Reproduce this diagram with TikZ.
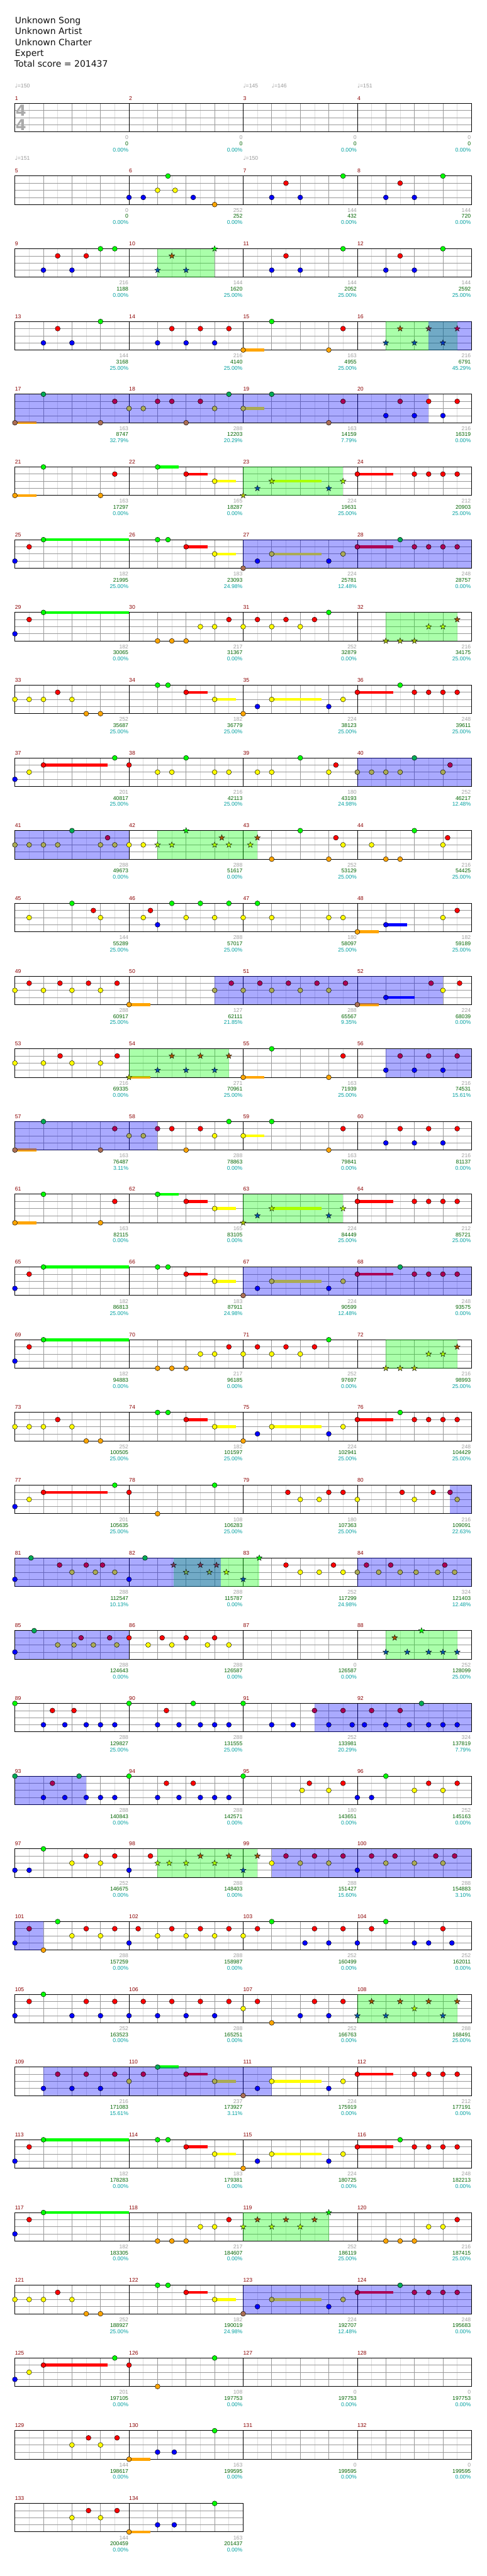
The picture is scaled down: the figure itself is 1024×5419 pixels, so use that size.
\documentclass[tikz,border=0pt]{standalone}
\usepackage{fontspec}
\setmainfont{DejaVu Sans}
\newfontfamily\labf{Liberation Sans}
\newfontfamily\symf{DejaVu Sans}
% note colours: n = normal, b = in activation (blue), s = star in phrase, t = star in both
\definecolor{n0}{HTML}{00FF00}\definecolor{n1}{HTML}{FF0000}\definecolor{n2}{HTML}{FFFF00}\definecolor{n3}{HTML}{0000FF}\definecolor{n4}{HTML}{FFA500}
\definecolor{b0}{HTML}{00AA55}\definecolor{b1}{HTML}{AA0055}\definecolor{b2}{HTML}{AAAA55}\definecolor{b3}{HTML}{0000FF}\definecolor{b4}{HTML}{AA6E55}
\definecolor{s0}{HTML}{00FF00}\definecolor{s1}{HTML}{AA5500}\definecolor{s2}{HTML}{AAFF00}\definecolor{s3}{HTML}{0055AA}\definecolor{s4}{HTML}{AAC300}
\definecolor{t0}{HTML}{00AA55}\definecolor{t1}{HTML}{713955}\definecolor{t2}{HTML}{71AA55}\definecolor{t3}{HTML}{0039C6}\definecolor{t4}{HTML}{718255}
\definecolor{zgc}{HTML}{00FF00}\definecolor{zbc}{HTML}{0000FF}
\definecolor{eighthc}{HTML}{DDDDDD}\definecolor{beatc}{HTML}{999999}
\definecolor{mnumc}{HTML}{8B0000}\definecolor{lgc}{HTML}{A0A0A0}\definecolor{lgrc}{HTML}{006400}\definecolor{lcc}{HTML}{00A0A0}
\definecolor{tempoc}{HTML}{999999}\definecolor{tsc}{HTML}{AAAAAA}\definecolor{headc}{HTML}{111111}
\tikzset{
 ge/.style={draw=eighthc,line width=0.9pt},
 gb/.style={draw=beatc,line width=0.9pt},
 gm/.style={draw=black,line width=1pt},
 gf/.style={draw=black,line width=1.3pt},
 zg/.style={fill=zgc,fill opacity=0.3333},
 zb/.style={fill=zbc,fill opacity=0.3333},
 smallt/.style={font=\labf\fontsize{11.5}{13}\selectfont,inner sep=0pt},
 mnum/.style={smallt,anchor=base west,yshift=6.6pt,text=mnumc},
 lga/.style={smallt,anchor=base east,xshift=-1.2pt,yshift=-16pt,text=lgc},
 lgb/.style={smallt,anchor=base east,xshift=-1.2pt,yshift=-28.7pt,text=lgrc},
 lgcs/.style={smallt,anchor=base east,xshift=-1.2pt,yshift=-41.7pt,text=lcc},
 tempo/.style={smallt,anchor=base west,yshift=33pt,text=tempoc},
 tsig/.style={font=\bfseries\fontsize{32}{34}\selectfont,text=tsc,inner sep=0pt},
 head/.style={font=\fontsize{18.5}{23}\selectfont,text=headc,anchor=base west,inner sep=0pt}
}
\newcommand\startrow[1]{\def\rk{#1}\pgfmathsetmacro\T{-(217.3+153*#1)}\begin{scope}[shift={(31.3pt,\T pt)},x=30pt,y=-15pt]}
\newcommand\stoprow{\end{scope}}
\newcommand\stgrid[2]{%
 \pgfmathtruncatemacro\Wa{#1-1}\pgfmathtruncatemacro\Wb{#1-2}%
 \foreach \i in {1,3,...,\Wa} \draw[ge] (\i,0)--(\i,4);
 \foreach \i in {2,4,...,\Wb} \draw[gb] (\i,0)--(\i,4);
 \foreach \j in {1,2,3} \draw[gb] (0,\j)--(#1,\j);
 \foreach \i in {#2} \draw[gm] (\i,0)--(\i,4);
 \draw[gf] (0,0) rectangle (#1,4);}
\newcommand\nt[3]{\edef\cc{#3#2}\filldraw[fill=\cc,draw=black,line width=0.6pt] (#1,#2) circle (5.2pt);}
\newcommand\st[3]{\edef\cc{#3#2}\filldraw[fill=\cc,draw=black,line width=0.5pt,shift={(#1,#2)}] (90:6.4pt)--(126:2.6pt)--(162:6.4pt)--(198:2.6pt)--(234:6.4pt)--(270:2.6pt)--(306:6.4pt)--(342:2.6pt)--(18:6.4pt)--(54:2.6pt)--cycle;}
\newcommand\putn[2]{\foreach \e/\l in {#2}{\nt{\e}{\l}{#1}}}
\newcommand\puts[2]{\foreach \e/\l in {#2}{\st{\e}{\l}{#1}}}
\newcommand\puth[1]{\foreach \a/\b/\l in {#1}{\edef\cc{n\l}\draw[line width=6pt,draw=\cc] (\a,\l)--(\b,\l);}}
\newcommand\putz[2]{\foreach \a/\b in {#2}{\fill[z#1] (\a,0) rectangle (\b,4);}}
\newcommand\mlabs[4]{\pgfmathtruncatemacro\mn{4*\rk+#1+1}%
 \node[mnum] (mn\mn) at (8*#1,0) {\mn};
 \node[lga] (sa\mn) at (8*#1+8,4) {#2};
 \node[lgb] (sb\mn) at (8*#1+8,4) {#3};
 \node[lgcs] (sc\mn) at (8*#1+8,4) {#4\%};}
\newcommand\mlabrow[1]{\foreach \qa/\qb/\qc [count=\j from 0] in {#1}{\mlabs{\j}{\qa}{\qb}{\qc}}}
\newcommand\tmark[3]{\node[tempo] (tp\rk#3) at (#1,0) {{\symf ♩}=#2};}
% repeated patterns
\newcommand\patA{%
 \puth{0/1.5/4, 10/11.5/0, 12/13.5/1, 14/15.5/2, 18/21.5/2, 24/26.5/1}
 \putz{g}{16/23}
 \putn{n}{0/4, 2/0, 6/4, 7/1, 10/0, 12/1, 14/2, 24/1, 28/1, 29/1, 30/1, 31/1}
 \puts{s}{16/4, 17/3, 18/2, 22/3, 23/2}}
\newcommand\patB{%
 \puth{2/8/0, 12/13.5/1, 14/15.5/2, 18/21.5/2, 24/26.5/1}
 \putz{b}{16/32}
 \putn{n}{0/3, 1/1, 2/0, 10/0, 10.73/0, 12/1, 14/2}
 \putn{b}{16/4, 17/3, 18/2, 22/3, 23/2, 24/1, 27/0, 28/1, 29/1, 30/1, 31/1}}
\newcommand\patC{%
 \puth{2/8/0}
 \putz{g}{26/31}
 \putn{n}{0/3, 1/1, 2/0, 10/4, 11/4, 12/4, 13/2, 14/2, 15/1, 16/2, 17/1, 18/2, 19/1, 20/2, 21/1, 22/0}
 \puts{s}{26/4, 27/4, 28/4, 29/2, 30/2, 31/1}}
\newcommand\patD{%
 \puth{12/13.5/1, 14/15.5/2, 18/21.5/2, 24/26.5/1}
 \putn{n}{0/2, 1/2, 2/2, 3/1, 4/2, 5/4, 6/4, 10/0, 10.73/0, 12/1, 14/2, 16/4, 17/3, 18/2, 22/3, 23/2, 24/1, 27/0, 28/1, 29/1, 30/1, 31/1}}
\begin{document}
\begin{tikzpicture}
\useasboundingbox (0,0) rectangle (1024pt,-5419pt);
\fill[white] (0,0) rectangle (1024pt,-5419pt);
\node[head] (h1) at (31.3pt,-49.3pt) {Unknown Song};
\node[head] (h2) at (31.3pt,-72.3pt) {Unknown Artist};
\node[head] (h3) at (31.3pt,-95.3pt) {Unknown Charter};
\node[head] (h4) at (31.3pt,-118.3pt) {Expert};
\node[head] (h5) at (30pt,-141.3pt) {Total score = 201437};
% row 0
\startrow{0}\stgrid{32}{8,16,24}
\node[tsig] (ts1) at (0.42,1.03) {4};
\node[tsig] (ts2) at (0.42,3.01) {4};
\tmark{0}{150}{a}\tmark{16}{145}{b}\tmark{18}{146}{c}\tmark{24}{151}{d}
\mlabrow{0/0/0.00, 0/0/0.00, 0/0/0.00, 0/0/0.00}
\stoprow
% row 1
\startrow{1}\stgrid{32}{8,16,24}
\putn{n}{8/3, 9/3, 10/2, 10.73/0, 11.23/2, 12.5/3, 14/4, 18/3, 19/1, 20/3, 23/0, 26/3, 27/1, 28/3, 30/0}
\tmark{0}{151}{a}\tmark{16}{150}{b}
\mlabrow{0/0/0.00, 252/252/0.00, 144/432/0.00, 144/720/0.00}
\stoprow
% row 2
\startrow{2}\stgrid{32}{8,16,24}
\putz{g}{10/14}
\putn{n}{2/3, 3/1, 4/3, 5/1, 6/0, 7/0, 18/3, 19/1, 20/3, 23/0, 26/3, 27/1, 28/3, 30/0}
\puts{s}{10/3, 11/1, 12/3, 14/0}
\mlabrow{216/1188/0.00, 144/1620/25.00, 144/2052/25.00, 144/2592/25.00}
\stoprow
% row 3
\startrow{3}\stgrid{32}{8,16,24}
\puth{16/17.5/4}
\putz{g}{26/31}\putz{b}{29/32}
\putn{n}{2/3, 3/1, 4/3, 6/0, 10/3, 11/1, 12/3, 13/1, 14/3, 15/1, 16/4, 18/0, 22/4, 23/1}
\puts{s}{26/3, 27/1, 28/3}\puts{t}{29/1, 30/3}\puts{b}{31/1}
\mlabrow{144/3168/25.00, 216/4140/25.00, 163/4955/25.00, 216/6791/45.29}
\stoprow
% row 4
\startrow{4}\stgrid{32}{8,16,24}
\puth{0/1.5/4, 16/17.5/2}
\putz{b}{0/29}
\putn{b}{0/4, 2/0, 6/4, 7/1, 8/2, 9/2, 10/1, 11/1, 12/4, 13/1, 14/2, 15/0, 16/2, 18/0, 22/4, 23/1, 26/3, 27/1, 28/3}
\putn{n}{29/1, 30/3, 31/1}
\mlabrow{163/8747/32.79, 288/12203/20.29, 163/14159/7.79, 216/16319/0.00}
\stoprow
% row 5
\startrow{5}\stgrid{32}{8,16,24}\patA
\mlabrow{163/17297/0.00, 165/18287/0.00, 224/19631/25.00, 212/20903/25.00}
\stoprow
% row 6
\startrow{6}\stgrid{32}{8,16,24}\patB
\mlabrow{182/21995/25.00, 183/23093/24.98, 224/25781/12.48, 248/28757/0.00}
\stoprow
% row 7
\startrow{7}\stgrid{32}{8,16,24}\patC
\mlabrow{182/30065/0.00, 217/31367/0.00, 252/32879/0.00, 216/34175/25.00}
\stoprow
% row 8
\startrow{8}\stgrid{32}{8,16,24}\patD
\mlabrow{252/35687/25.00, 182/36779/25.00, 224/38123/25.00, 248/39611/25.00}
\stoprow
% row 9
\startrow{9}\stgrid{32}{8,16,24}
\puth{2/6.5/1}
\putz{b}{24/32}
\putn{n}{0/3, 1/2, 2/1, 7/0, 8/1, 10/2, 11/2, 12/0, 14/2, 15/2, 17/2, 18/2, 20/0, 22/2, 22.5/1}
\putn{b}{24/2, 25/2, 26/2, 27/2, 28/0, 30/2, 30.5/1}
\mlabrow{201/40817/25.00, 216/42113/25.00, 180/43193/24.98, 252/46217/12.48}
\stoprow
% row 10
\startrow{10}\stgrid{32}{8,16,24}
\putz{g}{10/17}\putz{b}{0/8}
\putn{b}{0/2, 1/2, 2/2, 3/2, 4/0, 6/2, 6.5/1, 7/2}
\putn{n}{8/2, 9/2, 18/4, 20/0, 22/4, 22.5/1, 23/2, 25/2, 26/4, 27/4, 28/0, 30/2, 30.33/1}
\puts{s}{10/2, 11/2, 12/0, 14/2, 14.5/1, 15/2, 16.5/2, 17/1}
\mlabrow{288/49673/0.00, 288/51617/0.00, 252/53129/25.00, 216/54425/25.00}
\stoprow
% row 11
\startrow{11}\stgrid{32}{8,16,24}
\puth{24/25.5/4, 26/27.5/3}
\putn{n}{1/2, 4/0, 5.5/1, 6/2, 9/2, 9.5/1, 10/3, 11/0, 12/2, 13/0, 14/2, 15/0, 16/2, 17/0, 18/2, 22/2, 23/2, 24/4, 26/3, 30/2, 31/1}
\mlabrow{144/55289/25.00, 288/57017/25.00, 180/58097/25.00, 182/59189/25.00}
\stoprow
% row 12
\startrow{12}\stgrid{32}{8,16,24}
\puth{8/9.5/4, 24/25.5/4, 26/28/3}
\putz{b}{14/30}
\putn{n}{0/2, 1/1, 2/2, 3.16/1, 4/2, 5.16/1, 6/2, 7.16/1, 8/4, 30/2, 31.17/1}
\putn{b}{14/2, 15.17/1, 16/2, 17.17/1, 18/2, 19.17/1, 20/2, 21.17/1, 22/2, 23.17/1, 24/4, 26/3, 29.17/1}
\mlabrow{288/60917/25.00, 127/62111/21.85, 288/65567/9.35, 224/68039/0.00}
\stoprow
% row 13
\startrow{13}\stgrid{32}{8,16,24}
\puth{8/9.5/4, 16/17.5/4}
\putz{g}{8/15}\putz{b}{26/32}
\putn{n}{0/2, 2/2, 3.17/1, 4/2, 6/2, 7.17/1, 16/4, 18/0, 22/4, 23/1}
\puts{s}{8/4, 10/3, 11/1, 12/3, 13/1, 14/3, 15/1}
\putn{b}{26/3, 27/1, 28/3, 29/1, 30/3, 31/1}
\mlabrow{216/69335/0.00, 271/70961/25.00, 163/71939/25.00, 216/74531/15.61}
\stoprow
% row 14
\startrow{14}\stgrid{32}{8,16,24}
\puth{0/1.5/4, 16/17.5/2}
\putz{b}{0/10}
\putn{b}{0/4, 2/0, 6/4, 7/1, 8/2, 9/2, 10/1}
\putn{n}{11/1, 12/4, 13/1, 14/2, 15/0, 16/2, 18/0, 22/4, 23/1, 26/3, 27/1, 28/3, 29/1, 30/3, 31/1}
\mlabrow{163/76487/3.11, 288/78863/0.00, 163/79841/0.00, 216/81137/0.00}
\stoprow
% rows 15-18
\startrow{15}\stgrid{32}{8,16,24}\patA
\mlabrow{163/82115/0.00, 165/83105/0.00, 224/84449/25.00, 212/85721/25.00}
\stoprow
\startrow{16}\stgrid{32}{8,16,24}\patB
\mlabrow{182/86813/25.00, 183/87911/24.98, 224/90599/12.48, 248/93575/0.00}
\stoprow
\startrow{17}\stgrid{32}{8,16,24}\patC
\mlabrow{182/94883/0.00, 217/96185/0.00, 252/97697/0.00, 216/98993/25.00}
\stoprow
\startrow{18}\stgrid{32}{8,16,24}\patD
\mlabrow{252/100505/25.00, 182/101597/25.00, 224/102941/25.00, 248/104429/25.00}
\stoprow
% row 19
\startrow{19}\stgrid{32}{8,16,24}
\puth{2/6.5/1}
\putz{b}{30.5/32}
\putn{n}{0/3, 1/2, 2/1, 7/0, 8/1, 10/4, 14/0, 19.13/1, 20/2, 21.33/2, 22/1, 23/1, 24/2, 27.14/1, 28/2, 29.32/1}
\putn{b}{30.5/1, 31/2}
\mlabrow{201/105635/25.00, 108/106283/25.00, 180/107363/25.00, 216/109091/22.63}
\stoprow
% row 20
\startrow{20}\stgrid{32}{8,16,24}
\putz{g}{11.12/17.13}\putz{b}{0/14.43, 24/32}
\putn{b}{0/3, 1.13/0, 3.13/1, 4/2, 5/1, 5.64/2, 6.14/1, 7/2, 8/3, 9.12/0}
\puts{t}{11.12/1, 12/2, 13/1, 13.63/2, 14.13/1}
\puts{s}{14.82/2, 16/3, 17.13/0}
\putn{n}{19/1, 20/2, 21.33/2, 22.33/1, 23/2}
\putn{b}{24/2, 24.64/1, 25.5/2, 26.34/1, 27/2, 28.12/2, 29.63/2, 30.13/1, 30.82/2}
\mlabrow{288/112547/10.13, 288/115787/0.00, 252/117299/24.98, 324/121403/12.48}
\stoprow
% row 21
\startrow{21}\stgrid{32}{8,16,24}
\putz{g}{26/31}\putz{b}{0/8}
\putn{b}{0/3, 1.35/0, 3/2, 4.14/2, 4.64/1, 5.5/2, 6.64/1, 7.14/2}
\putn{n}{8/1, 9.34/2, 10.32/1, 11/2, 12/1, 13.5/2, 14/1, 15/2}
\puts{s}{26/3, 26.62/1, 27.5/3, 28.5/0, 29/3, 30/3, 31/3}
\mlabrow{288/124643/0.00, 288/126587/0.00, 0/126587/0.00, 252/128099/25.00}
\stoprow
% row 22
\startrow{22}\stgrid{32}{8,16,24}
\putz{b}{21/32}
\putn{n}{0/0, 2/3, 2.63/1, 3.5/3, 4.14/1, 5/3, 6/3, 7/3, 8/0, 10/3, 10.62/1, 11.5/3, 12.5/0, 13/3, 14/3, 15/3, 16/0, 18/3, 19.5/3}
\putn{b}{21/1, 22/3, 23/1, 23.64/3, 24.5/3, 25/1, 26/3, 27/1, 27.64/3, 28.5/0, 29/3, 30/3, 31/3}
\mlabrow{288/129827/25.00, 288/131555/25.00, 252/133981/20.29, 324/137819/7.79}
\stoprow
% row 23
\startrow{23}\stgrid{32}{8,16,24}
\putz{b}{0/5}
\putn{b}{0/0, 2/3, 2.63/1, 3.5/3, 4.5/0}
\putn{n}{5/3, 6/3, 7/3, 8/0, 10/3, 10.62/1, 11.5/3, 12.5/1, 13/3, 14/3, 15/3, 16/0, 20.13/2, 20.64/1, 22/2, 23/1, 24/3, 25/3, 26/0, 28/2, 29/1, 30/2, 31/1}
\mlabrow{288/140843/0.00, 288/142571/0.00, 180/143651/0.00, 252/145163/0.00}
\stoprow
% row 24
\startrow{24}\stgrid{32}{8,16,24}
\putz{g}{10/17}\putz{b}{18/32}
\putn{n}{0/3, 1/3, 2/0, 4/2, 5/1, 6/2, 7/1, 8/3, 9.5/1, 18/2}
\puts{s}{10/2, 10.82/2, 12/2, 13/1, 14/2, 15/1, 16/3, 17/1}
\putn{b}{19/1, 20/2, 21/1, 22/2, 23/1, 24/3, 25/1, 26/2, 26.64/1, 28/2, 29.5/1, 30/2, 30.82/1}
\mlabrow{252/146675/0.00, 288/148403/0.00, 288/151427/15.60, 288/154883/3.10}
\stoprow
% row 25
\startrow{25}\stgrid{32}{8,16,24}
\putz{b}{0/2}
\putn{b}{0/3, 1/1}
\putn{n}{2/4, 3/0, 4/2, 5/1, 6/2, 7/1, 8/3, 8.64/1, 10/2, 11/1, 12/2, 13/1, 14/2, 15/1, 16/2, 17/1, 18/0, 20.33/3, 21/1, 22/3, 23/1, 24/3, 25/1, 26/0, 28/3, 29/3, 30/1, 30.63/3}
\mlabrow{288/157259/0.00, 288/158987/0.00, 252/160499/0.00, 252/162011/0.00}
\stoprow
% row 26
\startrow{26}\stgrid{32}{8,16,24}
\putz{g}{24/31}
\putn{n}{0/3, 1/1, 2/0, 4/3, 5/1, 6/3, 7/1, 8/3, 9/1, 10/3, 11/1, 12/3, 13/1, 14/3, 15/1, 16/2, 17/1, 18/4, 20/3, 21/1, 22/3, 23/1}
\puts{s}{24/3, 25/1, 26/3, 27/1, 28/2, 29/1, 30/3, 31/1}
\mlabrow{252/163523/0.00, 288/165251/0.00, 252/166763/0.00, 288/168491/25.00}
\stoprow
% row 27
\startrow{27}\stgrid{32}{8,16,24}
\puth{10/11.5/0, 12/13.5/1, 14/15.5/2, 18/21.5/2, 24/26.5/1}
\putz{b}{2/18}
\putn{n}{2/3, 18/2, 22/3, 23/2, 24/1, 28/1, 29/1, 30/1, 31/1}
\putn{b}{3/1, 4/3, 5/1, 6/3, 7/1, 8/2, 9/1, 10/0, 12/1, 14/2, 16/4, 17/3}
\mlabrow{216/171083/15.61, 237/173927/3.11, 224/175919/0.00, 212/177191/0.00}
\stoprow
% row 28
\startrow{28}\stgrid{32}{8,16,24}
\puth{2/8/0, 12/13.5/1, 14/15.5/2, 18/21.5/2, 24/26.5/1}
\putn{n}{0/3, 1/1, 2/0, 10/0, 10.73/0, 12/1, 14/2, 16/4, 17/3, 18/2, 22/3, 23/2, 24/1, 27/0, 28/1, 29/1, 30/1, 31/1}
\mlabrow{182/178283/0.00, 183/179381/0.00, 224/180725/0.00, 248/182213/0.00}
\stoprow
% row 29
\startrow{29}\stgrid{32}{8,16,24}
\puth{2/8/0}
\putz{g}{16/22}
\putn{n}{0/3, 1/1, 2/0, 10/4, 11/4, 12/4, 13/2, 14/2, 15/1, 26/4, 27/4, 28/4, 29/2, 30/2, 31/1}
\puts{s}{16/2, 17/1, 18/2, 19/1, 20/2, 21/1, 22/0}
\mlabrow{182/183305/0.00, 217/184607/0.00, 252/186119/25.00, 216/187415/25.00}
\stoprow
% row 30
\startrow{30}\stgrid{32}{8,16,24}
\puth{12/13.5/1, 14/15.5/2, 18/21.5/2, 24/26.5/1}
\putz{b}{16/32}
\putn{n}{0/2, 1/2, 2/2, 3/1, 4/2, 5/4, 6/4, 10/0, 10.73/0, 12/1, 14/2}
\putn{b}{16/4, 17/3, 18/2, 22/3, 23/2, 24/1, 27/0, 28/1, 29/1, 30/1, 31/1}
\mlabrow{252/188927/25.00, 182/190019/24.98, 224/192707/12.48, 248/195683/0.00}
\stoprow
% row 31
\startrow{31}\stgrid{32}{8,16,24}
\puth{2/6.5/1}
\putn{n}{0/3, 1/2, 2/1, 7/0, 8/1, 10/4, 14/0}
\mlabrow{201/197105/0.00, 108/197753/0.00, 0/197753/0.00, 0/197753/0.00}
\stoprow
% row 32
\startrow{32}\stgrid{32}{8,16,24}
\puth{8/9.5/4}
\putn{n}{4/2, 5.16/1, 6/2, 7.16/1, 8/4, 10/3, 11.17/3, 14/0}
\mlabrow{144/198617/0.00, 163/199595/0.00, 0/199595/0.00, 0/199595/0.00}
\stoprow
% row 33
\startrow{33}\stgrid{16}{8}
\puth{8/9.5/4}
\putn{n}{4/2, 5.16/1, 6/2, 7.16/1, 8/4, 10/3, 11.17/3, 14/0}
\mlabrow{144/200459/0.00, 163/201437/0.00}
\stoprow
\end{tikzpicture}
\end{document}
